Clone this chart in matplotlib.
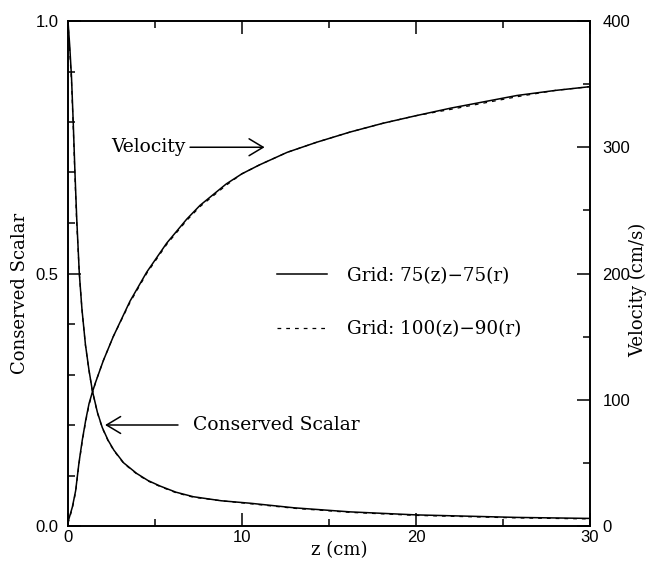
import numpy as np
import matplotlib
matplotlib.use('Agg')
import matplotlib.pyplot as plt
from matplotlib.ticker import MultipleLocator

# axial distance (cm) and centreline values
z_vel = [0, 0.06, 0.25, 0.44, 0.63, 0.82, 1.02, 1.21, 1.40, 1.59, 2.03, 2.6, 3.56, 4.52,
         5.67, 6.82, 7.59, 9.1, 10.0, 11.0, 12.6, 14.3, 16.2, 18.1, 20.0, 22.0, 23.9,
         25.8, 28.0, 30]
vel_75 = [3, 6, 15, 28, 50, 68, 84, 97, 106, 114, 131, 150, 178, 201,
          224, 243, 254, 271, 279, 286, 296, 304, 312, 319, 325, 331, 336,
          341, 345, 348]
vel_100 = [2, 5, 14, 27, 49, 67, 83, 96, 105, 114, 131, 150, 177, 200,
           223, 242, 253, 270, 279, 286, 296, 304, 312, 319, 325, 330, 335,
           340, 345, 348]

z_sc = [0, 0.1, 0.2, 0.3, 0.4, 0.5, 0.65, 0.8, 1.0, 1.2, 1.4, 1.69, 1.97, 2.3, 2.64, 3.2,
        3.95, 4.6, 5.3, 6.2, 7.2, 8.8, 10.5, 13.0, 16.2, 20.0, 25.8, 30]
sc_75 = [1.0, 0.95, 0.89, 0.80, 0.70, 0.61, 0.50, 0.43, 0.36, 0.31, 0.268, 0.225, 0.195,
         0.170, 0.150, 0.125, 0.104, 0.090, 0.079, 0.067, 0.058, 0.050, 0.045, 0.036,
         0.028, 0.022, 0.017, 0.015]
sc_100 = [1.0, 0.94, 0.88, 0.79, 0.69, 0.60, 0.50, 0.43, 0.358, 0.309, 0.267, 0.224, 0.194,
          0.169, 0.149, 0.124, 0.103, 0.089, 0.078, 0.066, 0.057, 0.050, 0.044, 0.035,
          0.027, 0.021, 0.016, 0.014]

grid_labels = ['Grid: 75(z)\u221275(r)', 'Grid: 100(z)\u221290(r)']

serif = 'DejaVu Serif'
sans = 'Liberation Sans'

fig = plt.figure(figsize=(6.56, 5.69), dpi=100)
ax = fig.add_axes([68/656., 1-526/569., 522/656., 505/569.])
ax2 = ax.twinx()

l1, = ax.plot(z_sc, sc_75, 'k-', lw=1.1)
l2, = ax.plot(z_sc, sc_100, 'k--', lw=0.9, dashes=(3, 4))
ax2.plot(z_vel, vel_75, 'k-', lw=1.1)
ax2.plot(z_vel, vel_100, 'k--', lw=0.9, dashes=(3, 4))

ax.set_xlim(0, 30)
ax.set_ylim(0, 1.0)
ax2.set_ylim(0, 400)

ax.xaxis.set_major_locator(MultipleLocator(10))
ax.xaxis.set_minor_locator(MultipleLocator(5))
ax.yaxis.set_major_locator(MultipleLocator(0.5))
ax.yaxis.set_minor_locator(MultipleLocator(0.1))
ax2.yaxis.set_major_locator(MultipleLocator(100))
ax2.yaxis.set_minor_locator(MultipleLocator(50))
ax.xaxis.set_major_formatter(plt.FuncFormatter(lambda v, p: '%d' % v))
ax.yaxis.set_major_formatter(plt.FuncFormatter(lambda v, p: '%.1f' % v))
ax2.yaxis.set_major_formatter(plt.FuncFormatter(lambda v, p: '%d' % v))

for a in (ax, ax2):
    for s in a.spines.values():
        s.set_linewidth(1.2)
ax.tick_params(axis='x', which='both', direction='in', top=True, width=1.1, pad=3)
ax.tick_params(axis='y', which='both', direction='in', right=False, width=1.1, pad=7)
ax2.tick_params(axis='y', which='both', direction='in', width=1.1, pad=9)
for a in (ax, ax2):
    a.tick_params(which='major', length=9.5)
    a.tick_params(which='minor', length=5)
for lab in ax.get_xticklabels() + ax.get_yticklabels() + ax2.get_yticklabels():
    lab.set_family(sans)
    lab.set_fontsize(12)

ax.set_xlabel('z (cm)', family=serif, fontsize=13)
ax.set_ylabel('Conserved Scalar', family=serif, fontsize=13)
ax2.set_ylabel('Velocity (cm/s)', family=serif, fontsize=13)
ax.xaxis.set_label_coords(0.52, -0.03)
ax.yaxis.set_label_coords(-0.075, 0.46)
ax2.yaxis.set_label_coords(1.075, 0.467)

arr = dict(arrowstyle='->,head_length=0.75,head_width=0.45', color='k', lw=1.1)
ax.annotate('Velocity', xy=(11.3, 0.75), xytext=(2.5, 0.75), va='center', ha='left',
            family=serif, fontsize=13.5, arrowprops=dict(arr, shrinkA=1, shrinkB=0))
ax.annotate('Conserved Scalar', xy=(2.13, 0.2), xytext=(7.2, 0.2), va='center', ha='left',
            family=serif, fontsize=13.5, arrowprops=dict(arr, shrinkA=9, shrinkB=0))

leg = ax.legend([l1, l2], grid_labels, loc='upper left', bbox_to_anchor=(0.369, 0.546),
                frameon=False, handlelength=2.73, handletextpad=1.1, labelspacing=1.94,
                prop={'family': serif, 'size': 13.2})

fig.savefig('out.png', dpi=100)
